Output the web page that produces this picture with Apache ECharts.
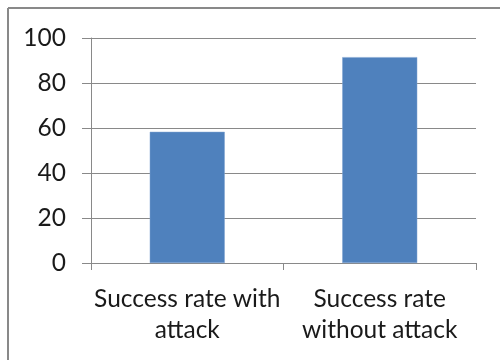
<!DOCTYPE html>
<html>
<head>
<meta charset="utf-8">
<script src="https://cdn.jsdelivr.net/npm/echarts@6/dist/echarts.min.js"></script>
<style>
  html, body { margin: 0; padding: 0; background: #ffffff; }
  #chart { width: 500px; height: 360px; }
</style>
</head>
<body>
<div id="chart"></div>
<script>
// Category labels, bar values and value-axis ticks
const categories = ['Success rate with\nattack', 'Success rate\nwithout attack'];
const successRates = [58.3, 91.5];
const yTicks = [0, 20, 40, 60, 80, 100];

const FONT = 'Lato, "Liberation Sans", Arial, sans-serif';
const GRID_GRAY = '#898989';

const chart = echarts.init(document.getElementById('chart'), null, { renderer: 'canvas' });

chart.setOption({
  backgroundColor: '#ffffff',
  animation: false,
  grid: { left: 91, right: 24, top: 38, bottom: 97, containLabel: false },
  // Frame: grey rule along the top and left edges
  graphic: [
    { type: 'line', shape: { x1: 8, y1: 8, x2: 500, y2: 8 }, style: { stroke: GRID_GRAY, lineWidth: 2 } },
    { type: 'line', shape: { x1: 8, y1: 8, x2: 8, y2: 360 }, style: { stroke: GRID_GRAY, lineWidth: 2 } }
  ],
  xAxis: {
    type: 'category',
    data: categories,
    axisLine: { show: true, lineStyle: { color: GRID_GRAY, width: 1 } },
    axisTick: { show: true, alignWithLabel: false, length: 7, lineStyle: { color: GRID_GRAY } },
    axisLabel: {
      color: '#1a1a1a',
      fontFamily: FONT,
      fontSize: 24.5,
      lineHeight: 31,
      margin: 21,
      interval: 0
    }
  },
  yAxis: {
    type: 'value',
    min: yTicks[0],
    max: yTicks[yTicks.length - 1],
    interval: yTicks[1] - yTicks[0],
    axisLine: { show: true, lineStyle: { color: GRID_GRAY, width: 1 } },
    axisTick: { show: true, length: 9, lineStyle: { color: GRID_GRAY } },
    splitLine: { show: true, lineStyle: { color: GRID_GRAY, width: 1 } },
    axisLabel: {
      color: '#1a1a1a',
      fontFamily: FONT,
      fontSize: 24.5,
      margin: 25
    }
  },
  series: [{
    type: 'bar',
    data: successRates,
    barWidth: 75,
    itemStyle: { color: '#4F81BD', borderColor: '#7FA3D1', borderWidth: 0.5 }
  }]
});
</script>
</body>
</html>
